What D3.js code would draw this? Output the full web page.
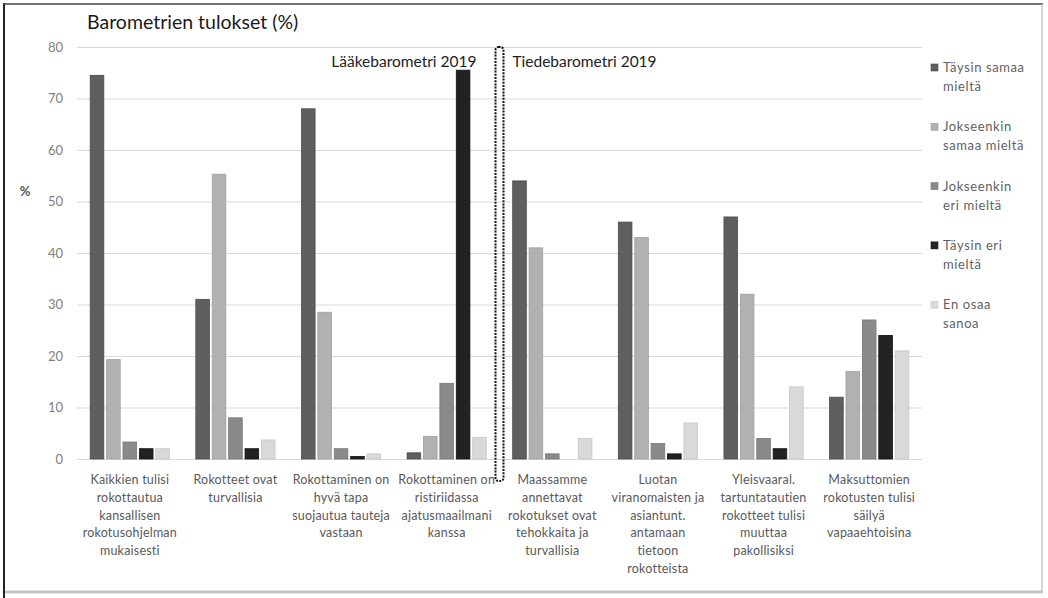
<!DOCTYPE html>
<html>
<head>
<meta charset="utf-8">
<script src="https://cdn.jsdelivr.net/npm/d3@7"></script>
<style>
  body { margin: 0; background: #fff; }
  svg { display: block; font-family: Lato, "Open Sans", sans-serif; }
</style>
</head>
<body>
<div id="chart"></div>
<script>
// data
const categories = [
  ["Kaikkien tulisi", "rokottautua", "kansallisen", "rokotusohjelman", "mukaisesti"],
  ["Rokotteet ovat", "turvallisia"],
  ["Rokottaminen on", "hyvä tapa", "suojautua tauteja", "vastaan"],
  ["Rokottaminen on", "ristiriidassa", "ajatusmaailmani", "kanssa"],
  ["Maassamme", "annettavat", "rokotukset ovat", "tehokkaita ja", "turvallisia"],
  ["Luotan", "viranomaisten ja", "asiantunt.", "antamaan", "tietoon", "rokotteista"],
  ["Yleisvaaral.", "tartuntatautien", "rokotteet tulisi", "muuttaa", "pakollisiksi"],
  ["Maksuttomien", "rokotusten tulisi", "säilyä", "vapaaehtoisina"]
];
const seriesNames = [
  ["Täysin samaa", "mieltä"],
  ["Jokseenkin", "samaa mieltä"],
  ["Jokseenkin", "eri mieltä"],
  ["Täysin eri", "mieltä"],
  ["En osaa", "sanoa"]
];
const taysinSamaa  = [74.5, 31, 68, 1.2, 54, 46, 47, 12];
const jokseenSamaa = [19.3, 55.3, 28.5, 4.4, 41, 43, 32, 17];
const jokseenEri   = [3.3, 8, 2, 14.7, 1, 3, 4, 27];
const taysinEri    = [2, 2, 0.5, 75.5, 0, 1, 2, 24];
const enOsaa       = [2, 3.7, 1, 4.2, 4, 7, 14, 21];
const yTicks = [0, 10, 20, 30, 40, 50, 60, 70, 80];

const seriesValues = [taysinSamaa, jokseenSamaa, jokseenEri, taysinEri, enOsaa];
const colors = ["#5f5f5f", "#b1b1b1", "#8a8a8a", "#222222", "#d9d9d9"];
const strokes = ["#4a4a4a", "#a0a0a0", "#777777", "#111111", "#c8c8c8"];

const width = 1048, height = 598;
const svg = d3.select("#chart").append("svg")
  .attr("width", width)
  .attr("height", height);

// frame
svg.append("rect").attr("x", 0).attr("y", 0).attr("width", width).attr("height", height).attr("fill", "#fff");
svg.append("line").attr("x1", 4).attr("x2", 4).attr("y1", 3).attr("y2", 598).attr("stroke", "#222").attr("stroke-width", 2);
svg.append("line").attr("x1", 3).attr("x2", 1043).attr("y1", 4).attr("y2", 4).attr("stroke", "#444").attr("stroke-width", 1.5);
svg.append("line").attr("x1", 1042).attr("x2", 1042).attr("y1", 4).attr("y2", 593).attr("stroke", "#c8c8c8").attr("stroke-width", 1.5);
svg.append("line").attr("x1", 5).attr("x2", 1043).attr("y1", 592).attr("y2", 592).attr("stroke", "#c4c4c4").attr("stroke-width", 3);

const plot = { left: 77, right: 922, top: 47, bottom: 459 };

const x0 = d3.scaleBand()
  .domain(d3.range(categories.length))
  .range([plot.left, plot.right])
  .paddingInner(0.25)
  .paddingOuter(0.125);

const x1 = d3.scaleBand()
  .domain(d3.range(seriesValues.length))
  .range([0, x0.bandwidth()])
  .paddingInner(0.17);

const y = d3.scaleLinear().domain([0, 80]).range([plot.bottom, plot.top]);

// gridlines + y labels
const yAxis = svg.append("g")
  .attr("transform", `translate(${plot.left},0)`)
  .call(d3.axisLeft(y).tickValues(yTicks).tickSize(-(plot.right - plot.left)).tickPadding(14));
yAxis.select(".domain").remove();
yAxis.selectAll(".tick line").attr("stroke", "#d9d9d9").attr("stroke-width", 1);
yAxis.selectAll(".tick text")
  .attr("fill", "#808080")
  .style("font-size", "13px")
  .style("font-family", "Lato, sans-serif");

// bars
const groups = svg.append("g").selectAll("g")
  .data(categories.map((c, i) => i))
  .join("g")
  .attr("transform", i => `translate(${x0(i)},0)`);

groups.selectAll("rect")
  .data(i => seriesValues.map((vals, s) => ({ s, v: vals[i] })))
  .join("rect")
  .filter(d => d.v > 0)
  .attr("x", d => x1(d.s))
  .attr("y", d => y(d.v))
  .attr("width", x1.bandwidth())
  .attr("height", d => y(0) - y(d.v))
  .attr("fill", d => colors[d.s])
  .attr("stroke", d => strokes[d.s])
  .attr("stroke-width", 0.8);

// category labels
const xLabels = svg.append("g").selectAll("text")
  .data(categories)
  .join("text")
  .attr("x", (d, i) => x0(i) + x0.bandwidth() / 2)
  .attr("y", 484)
  .attr("text-anchor", "middle")
  .attr("fill", "#595959")
  .style("font-size", "12.5px")
  .style("letter-spacing", "0.2px");
xLabels.selectAll("tspan")
  .data(d => d)
  .join("tspan")
  .attr("x", function () { return this.parentNode.getAttribute("x"); })
  .attr("dy", (d, i) => i === 0 ? 0 : 17.8)
  .text(d => d);

// divider between the two barometers
const divX = x0(4) - x0.step() * x0.paddingInner() / 2;
svg.append("rect")
  .attr("x", divX - 4)
  .attr("y", 47)
  .attr("width", 8)
  .attr("height", 434)
  .attr("rx", 3)
  .attr("fill", "none")
  .attr("stroke", "#111")
  .attr("stroke-width", 2)
  .attr("stroke-dasharray", "2,1.2");

svg.append("text")
  .attr("x", divX - 23)
  .attr("y", 67)
  .attr("text-anchor", "end")
  .attr("fill", "#222")
  .style("font-size", "15.5px")
  .text("Lääkebarometri 2019");

svg.append("text")
  .attr("x", divX + 13)
  .attr("y", 67)
  .attr("fill", "#222")
  .style("font-size", "15.5px")
  .text("Tiedebarometri 2019");

// title
svg.append("text")
  .attr("x", 87)
  .attr("y", 29)
  .attr("fill", "#1a1a1a")
  .style("font-size", "19.5px")
  .text("Barometrien tulokset (%)");

// y axis title
svg.append("text")
  .attr("x", 25)
  .attr("y", 196)
  .attr("text-anchor", "middle")
  .attr("fill", "#555")
  .style("font-size", "13px")
  .style("font-weight", "bold")
  .text("%");

// legend
const legend = svg.append("g").selectAll("g")
  .data(seriesNames)
  .join("g")
  .attr("transform", (d, i) => `translate(931,${72 + i * 59.3})`);
legend.append("rect")
  .attr("x", 0).attr("y", -8)
  .attr("width", 7).attr("height", 7)
  .attr("fill", (d, i) => colors[i])
  .attr("stroke", (d, i) => strokes[i])
  .attr("stroke-width", 0.6);
legend.append("text")
  .attr("fill", "#5f5f5f")
  .style("font-size", "13px")
  .style("letter-spacing", "0.6px")
  .selectAll("tspan")
  .data(d => d)
  .join("tspan")
  .attr("x", 12)
  .attr("dy", (d, i) => i === 0 ? 0 : 19)
  .text(d => d);
</script>
</body>
</html>
